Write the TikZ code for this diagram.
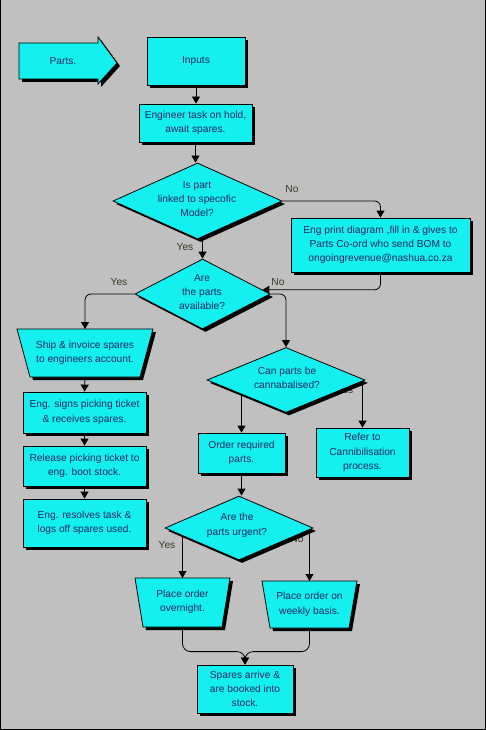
\documentclass[tikz,border=0pt]{standalone}
\usepackage{fontspec}
\setmainfont{Liberation Sans}
\usetikzlibrary{shapes.geometric,arrows.meta,shadows}
\pgfdeclarelayer{bg}
\pgfdeclarelayer{conn}
\pgfsetlayers{bg,conn,main}
\definecolor{bgc}{RGB}{192,192,192}
\definecolor{boxc}{RGB}{20,240,240}
\definecolor{textc}{RGB}{20,40,100}
\definecolor{lblc}{RGB}{60,55,40}
\newcommand\dfont{\fontsize{10.2}{14.3}\selectfont}
\tikzset{
  shadowed/.style={drop shadow={shadow xshift=3pt,shadow yshift=-3pt,opacity=1,fill=black}},
  shp/.style={draw=black,line width=0.8pt,fill=boxc,shadowed},
  box/.style={shp,rectangle,text=textc,font=\dfont,align=center,inner sep=0pt},
  dia/.style={shp,diamond,inner sep=0pt},
  txtnode/.style={text=textc,font=\dfont,align=center,inner sep=0pt},
  lbl/.style={text=lblc,font=\dfont,inner sep=0pt},
  arr/.style={draw=black,line width=0.8pt,-{Triangle[length=7pt,width=8pt]}},
}
\begin{document}
\begin{tikzpicture}[x=1pt,y=-1pt]
\useasboundingbox (0,0) rectangle (486,730);
\begin{pgfonlayer}{bg}
  \fill[bgc] (0,0) rectangle (486,730);
  \draw[black,line width=1.2pt] (0.6,0) -- (0.6,729.4) -- (485.4,729.4) -- (485.4,0);
\end{pgfonlayer}

% Parts arrow
\path[shp] (19,43) -- (98,43) -- (98,37) -- (117,63) -- (98,84) -- (98,79) -- (19,79) -- cycle;
\node[txtnode] (parts) at (63,61) {Parts.};

% rectangles
\node[box,minimum width=98pt,minimum height=48pt] (inputs) at (196,61) {Inputs};
\node[box,minimum width=113pt,minimum height=38pt] (eng) at (195.5,123) {Engineer task on hold,\\await spares.};
\node[box,minimum width=179pt,minimum height=54pt] (bom) at (380.5,245) {Eng print diagram ,fill in \& gives to\\Parts Co-ord who send BOM to\\ongoingrevenue@nashua.co.za};
\node[box,minimum width=123pt,minimum height=41pt] (engs) at (84.5,412.5) {Eng. signs picking ticket\\\& receives spares.};
\node[box,minimum width=123pt,minimum height=40pt] (release) at (84.5,466) {Release picking ticket to\\eng. boot stock.};
\node[box,minimum width=123pt,minimum height=48pt] (resolves) at (84.5,523) {Eng. resolves task \&\\logs off spares used.};
\node[box,minimum width=87pt,minimum height=40pt] (order) at (241.5,453) {Order required\\parts.};
\node[box,minimum width=93pt,minimum height=49pt] (refer) at (362.5,452.5) {Refer to\\Cannibilisation\\process.};
\node[box,minimum width=96pt,minimum height=48pt] (spares) at (245,689) {Spares arrive \&\\are booked into\\stock.};

% diamonds
\node[dia,minimum width=169pt,minimum height=76pt] (d1) at (197.5,201) {};
\node[txtnode] (d1t) at (197,199) {Is part\\linked to specofic\\Model?};
\node[dia,minimum width=135pt,minimum height=70pt] (d2) at (202.5,294) {};
\node[txtnode] (d2t) at (202,292) {Are\\the parts\\available?};
\node[dia,minimum width=158pt,minimum height=65pt] (d3) at (286,380) {};
\node[txtnode] (d3t) at (287,378) {Can parts be\\cannabalised?};
\node[dia,minimum width=148pt,minimum height=64pt] (d4) at (239,528) {};
\node[txtnode] (d4t) at (237,525.5) {Are the\\parts urgent?};

% trapezoids
\path[shp] (17,329) -- (153,329) -- (140,377) -- (30,377) -- cycle;
\coordinate (shipN) at (85,329);
\coordinate (shipS) at (85,377);
\node[txtnode] (ship) at (85,353) {Ship \& invoice spares\\to engineers account.};
\path[shp] (135,578) -- (230,578) -- (222,627) -- (143,627) -- cycle;
\coordinate (ovN) at (182.5,578);
\coordinate (ovS) at (182.5,627);
\node[txtnode] (ov) at (182.5,602) {Place order\\overnight.};
\path[shp] (262,581) -- (357,581) -- (349,628) -- (270,628) -- cycle;
\coordinate (wkN) at (309.5,581);
\coordinate (wkS) at (309.5,628);
\node[txtnode] (wk) at (309.5,604.5) {Place order on\\weekly basis.};

\begin{pgfonlayer}{conn}
  \draw[arr] (inputs.south) -- (inputs.south |- eng.north);
  \draw[arr] (eng.south) -- (eng.south |- d1.north);
  \draw[arr,rounded corners=6pt] (d1.east) -| (bom.north);
  \draw[arr,rounded corners=6pt] (bom.south) |- (d2.4);
  \draw[arr] (d2.north |- d1.center) -- (d2.north);
  \draw[arr,rounded corners=6pt] (d2.west) -| (shipN);
  \draw[arr,rounded corners=6pt] (d2.east) -| (d3.north);
  \draw[arr] (shipS) -- (engs.north);
  \draw[arr] (engs.south) -- (release.north);
  \draw[arr] (release.south) -- (resolves.north);
  \draw[arr] (order.north |- d3.center) -- (order.north);
  \draw[arr] (refer.north |- d3.center) -- (refer.north);
  \draw[arr] (order.south) -- (order.south |- d4.north);
  \draw[arr] (ovN |- d4.center) -- (ovN);
  \draw[arr] (wkN |- d4.center) -- (wkN);
  \draw[arr,rounded corners=8pt] (ovS) |- ([yshift=13pt]spares.north) -- (spares.north);
  \draw[arr,rounded corners=8pt] (wkS) |- ([yshift=13pt]spares.north) -- (spares.north);
  \node[lbl] (l1) at (292,189) {No};
  \node[lbl] (l2) at (185,247) {Yes};
  \node[lbl] (l3) at (119,282) {Yes};
  \node[lbl] (l4) at (278,282) {No};
  \node[lbl] (l5) at (345,390) {Yes};
  \node[lbl] (l6) at (297,539) {No};
  \node[lbl] (l7) at (167,545) {Yes};
\end{pgfonlayer}
\end{tikzpicture}
\end{document}
